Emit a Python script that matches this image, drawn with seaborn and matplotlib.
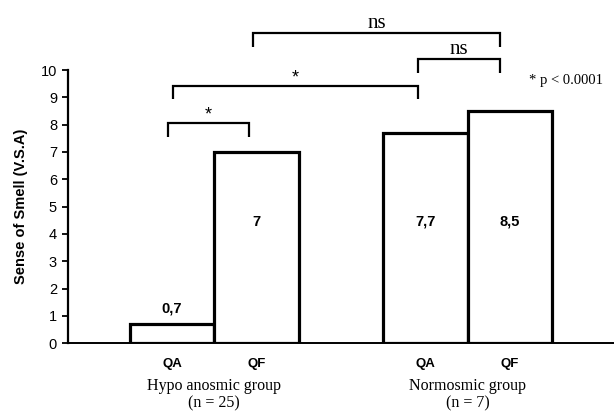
import matplotlib
matplotlib.use("Agg")
import matplotlib.pyplot as plt
import matplotlib.transforms as mtransforms
import seaborn as sns
import pandas as pd

groups = ["Hypo anosmic group", "Normosmic group"]
group_n = ["(n = 25)", "(n = 7)"]
conditions = ["QA", "QF"]
values = [[0.7, 7.0], [7.7, 8.5]]
value_labels = [["0,7", "7"], ["7,7", "8,5"]]

rows = []
for gi, g in enumerate(groups):
    for ci, c in enumerate(conditions):
        rows.append({"group": g, "cond": c, "pos": gi * 3 + ci,
                     "value": values[gi][ci], "label": value_labels[gi][ci]})
df = pd.DataFrame(rows)

sns.set_style("white", rc={"text.color": "black", "axes.labelcolor": "black",
                           "xtick.color": "black", "ytick.color": "black",
                           "axes.edgecolor": "black"})
plt.rcParams["font.family"] = ["Liberation Sans", "DejaVu Sans"]

fig = plt.figure(figsize=(6.14, 4.17), dpi=100)
ax = fig.add_axes([0.111, 0.177, 0.889, 0.655])

sns.barplot(data=df, x="pos", y="value", native_scale=True, width=1.0,
            color="white", edgecolor="black", linewidth=2.3, ax=ax,
            errorbar=None, zorder=3)
for p in ax.patches:
    p.set_facecolor("white")
    p.set_edgecolor("black")

ax.set_xlim(-1.23, 5.23)
ax.set_ylim(0, 10)
ax.set_yticks(range(0, 11))
ax.tick_params(axis="y", direction="out", length=4, width=1.3, labelsize=10.5, pad=4, left=True, color="black")
ax.set_xticks(df["pos"].tolist())
ax.set_xticklabels(df["cond"].tolist(), fontweight="bold", fontsize=9.5)
ax.tick_params(axis="x", length=0, pad=11)
ax.set_xlabel("")
ax.set_ylabel("Sense of Smell (V.S.A)", fontweight="bold", fontsize=10.5, labelpad=9)
for s in ["top", "right"]:
    ax.spines[s].set_visible(False)
ax.spines["left"].set_linewidth(1.6)
ax.spines["bottom"].set_linewidth(1.4)
ax.grid(False)

# value labels
for _, r in df.iterrows():
    if r["value"] < 2:
        ax.text(r["pos"], r["value"] + 0.3, r["label"], ha="center", va="bottom",
                fontweight="bold", fontsize=10.5)
    else:
        ax.text(r["pos"], 4.45, r["label"], ha="center", va="center",
                fontweight="bold", fontsize=10.5)

# group labels
trans = mtransforms.blended_transform_factory(ax.transData, ax.transAxes)
serif = ["Liberation Serif", "DejaVu Serif"]
for gi, g in enumerate(groups):
    cx = gi * 3 + 0.5
    ax.text(cx, -0.155, g, transform=trans, ha="center", va="center", family=serif, fontsize=11.5)
    ax.text(cx, -0.222, group_n[gi], transform=trans, ha="center", va="center", family=serif, fontsize=11.5)

# significance brackets
def bracket(x1, x2, y, h, text, fam, fs, dy):
    ax.plot([x1, x1, x2, x2], [y - h, y, y, y - h], color="black", lw=1.6,
            clip_on=False, solid_capstyle="butt", solid_joinstyle="miter")
    ax.text((x1 + x2) / 2, y + dy, text, ha="center", va="bottom", family=fam,
            fontsize=fs)

bracket(-0.05, 0.91, 8.05, 0.5, "*", ["Liberation Sans"], 13, 0.0)
bracket(0.01, 2.91, 9.4, 0.45, "*", ["Liberation Sans"], 13, 0.0)
bracket(2.91, 3.88, 10.4, 0.5, "ns", serif, 15, 0.0)
bracket(0.96, 3.88, 11.35, 0.5, "ns", serif, 15, 0.0)

ax.text(4.22, 9.6, "* p < 0.0001", family=serif, fontsize=10.5, ha="left", va="center")

fig.savefig("out.png", dpi=100)
